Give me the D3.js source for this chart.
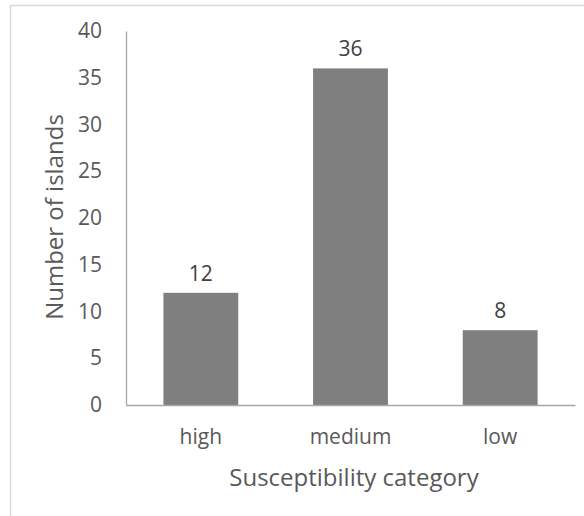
<!DOCTYPE html>
<html>
<head>
<meta charset="utf-8">
<script src="https://cdn.jsdelivr.net/npm/d3@7"></script>
<style>
body { margin: 0; background: #fff; }
</style>
</head>
<body>
<div class="chart"></div>
<script>
var width = 584;
var height = 516;

var categories = ['high', 'medium', 'low'];
var islands = [12, 36, 8];
var y_ticks = [0, 5, 10, 15, 20, 25, 30, 35, 40];

var font = "'Open Sans', sans-serif";
var text_color = '#595959';

function draw() {
	var svg = d3.select('.chart').append('svg')
		.attr('width', width)
		.attr('height', height);

	// light frame round the chart area
	svg.append('rect')
		.attr('x', 10.5).attr('y', 5.5)
		.attr('width', 700).attr('height', 700)
		.style('fill', 'none')
		.style('stroke', '#d9d9d9')
		.style('stroke-width', 1.5);

	var x = d3.scaleBand()
		.domain(categories)
		.range([126, 575])
		.paddingInner(0.5)
		.paddingOuter(0.25);

	var y = d3.scaleLinear()
		.domain([0, 40])
		.range([405, 31]);

	// bars
	svg.selectAll('rect.bar')
		.data(islands)
		.enter()
		.append('rect')
		.attr('class', 'bar')
		.attr('x', function(d, i) { return x(categories[i]); })
		.attr('y', function(d) { return y(d); })
		.attr('width', x.bandwidth())
		.attr('height', function(d) { return y(0) - y(d); })
		.style('fill', '#7f7f7f');

	// value labels
	svg.selectAll('text.value')
		.data(islands)
		.enter()
		.append('text')
		.attr('class', 'value')
		.attr('x', function(d, i) { return x(categories[i]) + x.bandwidth() / 2; })
		.attr('y', function(d) { return y(d) - 12; })
		.attr('text-anchor', 'middle')
		.style('font-family', font)
		.style('font-size', '21px')
		.style('fill', '#404040')
		.text(function(d) { return d; });

	// y axis
	var y_axis = svg.append('g')
		.attr('transform', 'translate(126,0)')
		.call(d3.axisLeft(y).tickValues(y_ticks).tickSize(0).tickPadding(24));
	y_axis.select('.domain').style('stroke', '#a6a6a6').style('stroke-width', 1.3);
	y_axis.selectAll('text')
		.style('font-family', font)
		.style('font-size', '21px')
		.style('fill', text_color);

	// x axis
	var x_axis = svg.append('g')
		.attr('transform', 'translate(0,405)')
		.call(d3.axisBottom(x).tickSize(0).tickPadding(24));
	x_axis.select('.domain').style('stroke', '#a6a6a6').style('stroke-width', 1.3);
	x_axis.selectAll('text')
		.style('font-family', font)
		.style('font-size', '21px')
		.style('fill', text_color);

	// axis titles
	svg.append('text')
		.attr('x', 354)
		.attr('y', 486)
		.attr('text-anchor', 'middle')
		.style('font-family', font)
		.style('font-size', '24px')
		.style('fill', text_color)
		.text('Susceptibility category');

	svg.append('text')
		.attr('transform', 'translate(63,217) rotate(-90)')
		.attr('text-anchor', 'middle')
		.style('font-family', font)
		.style('font-size', '24px')
		.style('fill', text_color)
		.text('Number of islands');
}

draw();
</script>
</body>
</html>
